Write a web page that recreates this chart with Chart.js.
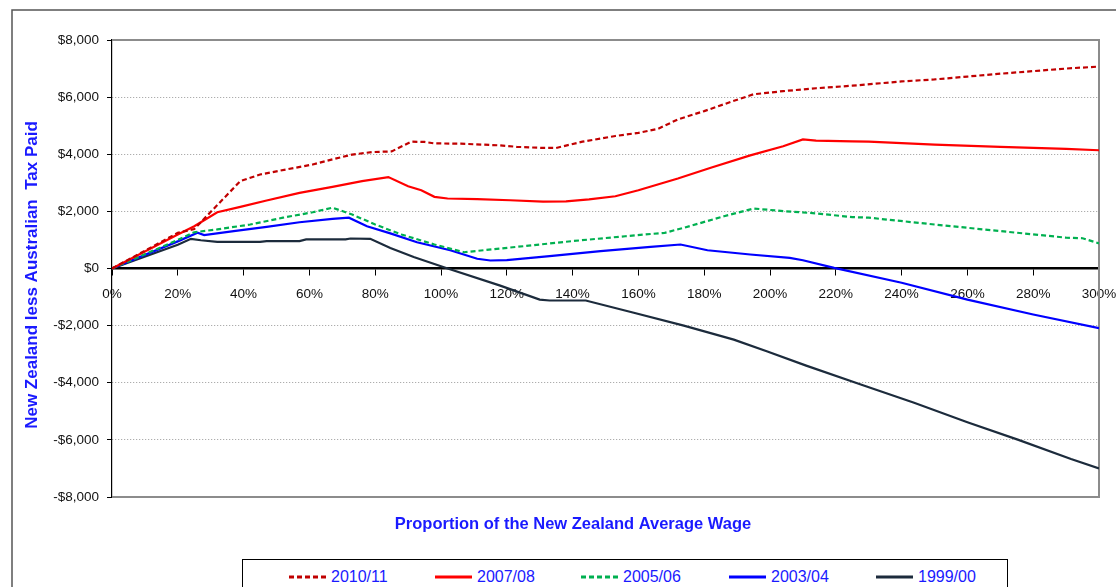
<!DOCTYPE html>
<html>
<head>
<meta charset="utf-8">
<script src="https://cdn.jsdelivr.net/npm/chart.js@4/dist/chart.umd.min.js"></script>
<style>
  html, body { margin: 0; padding: 0; background: #fff; }
  #wrap { position: relative; width: 1116px; height: 587px; overflow: hidden; }
  #c { position: absolute; left: 0; top: 0; }
  #legend { position: absolute; left: 242px; top: 559px; width: 766px; height: 50px;
            border: 1px solid #000; box-sizing: border-box; background: #fff; }
  .item { position: absolute; top: 6px; height: 22px; display: flex; align-items: center;
          font-family: "Liberation Sans", Arial, sans-serif; font-size: 16px; color: #1a1aff; }
  .item svg { margin-right: 5px; }
</style>
</head>
<body>
<div id="wrap">
  <canvas id="c" width="1116" height="587"></canvas>
  <div id="legend"></div>
</div>
<script>
// ---- Data (x = % of NZ average wage, y = NZ less Australian tax paid, $) ----
const seriesNames = ["2010/11", "2007/08", "2005/06", "2003/04", "1999/00"];

const x2010 = [0, 10, 20, 25, 39, 45, 53, 61, 67, 73, 79, 85, 91, 95, 98, 106, 118, 123, 131, 135, 143, 153, 160, 166, 172, 180, 188, 195, 204, 214, 225, 240, 250, 260, 270, 280, 290, 300];
const y2010 = [0, 620, 1250, 1380, 3060, 3290, 3470, 3640, 3820, 3990, 4075, 4100, 4440, 4430, 4380, 4370, 4310, 4260, 4220, 4220, 4440, 4640, 4750, 4890, 5220, 5510, 5830, 6100, 6210, 6310, 6400, 6550, 6620, 6720, 6820, 6910, 7000, 7070];

const x2007 = [0, 20, 25, 32, 39, 47, 57, 67, 76, 84, 90, 94, 98, 102, 111, 121, 131, 138, 145, 153, 160, 172, 182, 194, 204, 210, 214, 225, 230, 250, 270, 290, 300];
const y2007 = [0, 1190, 1480, 1970, 2160, 2380, 2650, 2860, 3060, 3200, 2880, 2740, 2510, 2450, 2430, 2390, 2340, 2350, 2420, 2530, 2740, 3150, 3530, 3960, 4280, 4520, 4480, 4450, 4440, 4340, 4260, 4190, 4140];

const x2005 = [0, 20, 25, 32, 42, 52, 61, 67, 73, 80, 88, 98, 107, 118, 125, 140, 156, 168, 174, 186, 195, 204, 214, 225, 230, 250, 270, 290, 295, 300];
const y2005 = [0, 1000, 1270, 1370, 1540, 1780, 1970, 2130, 1890, 1540, 1190, 840, 570, 700, 780, 960, 1130, 1250, 1430, 1830, 2100, 2010, 1930, 1800, 1780, 1540, 1310, 1080, 1060, 880];

const x2003 = [0, 20, 26, 28, 37, 47, 57, 67, 72, 77.5, 84.6, 92.7, 102.8, 111, 115, 120, 133, 148.5, 163.7, 172.8, 181, 194, 206, 210, 219.5, 240, 260, 280, 300];
const y2003 = [0, 950, 1250, 1170, 1310, 1460, 1620, 1740, 1780, 1480, 1230, 920, 640, 340, 280, 290, 430, 610, 760, 840, 640, 490, 370, 290, 20, -500, -1090, -1610, -2090];

const x1999 = [0, 20, 24, 27, 32, 45, 47, 57, 59, 71, 72.5, 78.5, 84.6, 91.7, 101.8, 118, 130, 133, 144, 158.6, 173.8, 189, 199, 211, 227.6, 243.8, 260, 275.3, 291.5, 300];
const y1999 = [0, 830, 1040, 990, 930, 930, 960, 960, 1020, 1020, 1050, 1040, 720, 400, 10, -600, -1090, -1120, -1120, -1550, -2000, -2490, -2900, -3400, -4060, -4700, -5380, -5990, -6670, -7000];

const xTickStep = 20;
const yTickStep = 2000;
const xTitle = "Proportion of the New Zealand Average Wage";
const yTitle = "New Zealand less Australian  Tax Paid";

// ---- Styles ----
const styles = [
  { color: "#C00000", dash: [5, 3] },
  { color: "#FF0000", dash: [] },
  { color: "#00B050", dash: [5, 3] },
  { color: "#0000FF", dash: [] },
  { color: "#1C2B3C", dash: [] }
];
const xs = [x2010, x2007, x2005, x2003, x1999];
const ys = [y2010, y2007, y2005, y2003, y1999];

const datasets = seriesNames.map((name, i) => ({
  label: name,
  data: xs[i].map((x, j) => ({ x: x, y: ys[i][j] })),
  borderColor: styles[i].color,
  borderDash: styles[i].dash,
  borderWidth: 2.2,
  pointRadius: 0,
  tension: 0,
  fill: false,
  order: i
}));

const FONT = "'Liberation Sans', Arial, sans-serif";

const framePlugin = {
  id: "frame",
  beforeDraw(chart) {
    const ctx = chart.ctx;
    ctx.save();
    ctx.fillStyle = "#fff";
    ctx.fillRect(0, 0, chart.width, chart.height);
    ctx.strokeStyle = "#555";
    ctx.lineWidth = 1.5;
    ctx.strokeRect(12, 10, 1300, 700);
    ctx.restore();
  },
  beforeDatasetsDraw(chart) {
    const { ctx, chartArea: a } = chart;
    ctx.save();
    ctx.strokeStyle = "#8c8c8c";
    ctx.lineWidth = 2;
    ctx.beginPath();
    ctx.moveTo(a.left, a.top);
    ctx.lineTo(a.right, a.top);
    ctx.lineTo(a.right, a.bottom);
    ctx.lineTo(a.left, a.bottom);
    ctx.stroke();
    ctx.restore();
  },
  afterDraw(chart) {
    const ctx = chart.ctx;
    ctx.save();
    ctx.fillStyle = "#1a1aff";
    ctx.font = "bold 16.5px " + FONT;
    ctx.textAlign = "center";
    ctx.textBaseline = "middle";
    ctx.fillText(xTitle, 573, 524);
    ctx.translate(32, 275);
    ctx.rotate(-Math.PI / 2);
    ctx.font = "bold 17px " + FONT;
    ctx.fillText(yTitle, 0, 0);
    ctx.restore();
  }
};

new Chart(document.getElementById("c"), {
  type: "line",
  data: { datasets },
  options: {
    responsive: false,
    animation: false,
    layout: { padding: { left: 0, top: 40, right: 17, bottom: 90 } },
    plugins: { legend: { display: false }, tooltip: { enabled: false } },
    scales: {
      x: {
        type: "linear",
        position: { y: 0 },
        min: 0, max: 300,
        afterFit(scale) { scale.paddingLeft = 0; scale.paddingRight = 0; },
        ticks: {
          stepSize: xTickStep,
          color: "#111",
          font: { family: FONT, size: 13.5 },
          padding: 12,
          maxRotation: 0,
          callback: v => v + "%"
        },
        grid: { drawOnChartArea: false, drawTicks: true, tickLength: 6, tickColor: "#000", color: "#000" },
        border: { color: "#000", width: 2.5 }
      },
      y: {
        type: "linear",
        min: -8000, max: 8000,
        afterFit(scale) { scale.width = 112; scale.paddingTop = 0; scale.paddingBottom = 0; },
        ticks: {
          stepSize: yTickStep,
          color: "#111",
          font: { family: FONT, size: 13.5 },
          padding: 8,
          callback: v => (v < 0 ? "-$" : "$") + Math.abs(v).toLocaleString("en-US")
        },
        grid: { color: "#9a9a9a", lineWidth: 1, tickLength: 5, tickColor: "#000", tickBorderDash: [] },
        border: { color: "#000", width: 1.2, dash: [1, 2] }
      }
    }
  },
  plugins: [framePlugin]
});

// ---- HTML legend ----
const legendPos = [288, 434, 580, 728, 875];
const legend = document.getElementById("legend");
seriesNames.forEach((name, i) => {
  const d = document.createElement("div");
  d.className = "item";
  d.style.left = (legendPos[i] - 242) + "px";
  const dash = styles[i].dash.length ? styles[i].dash.join(",") : "none";
  d.innerHTML = '<svg width="37" height="4"><line x1="0" y1="2" x2="37" y2="2" stroke="' +
    styles[i].color + '" stroke-width="3" stroke-dasharray="' + dash + '"/></svg>';
  const t = document.createElement("span");
  t.textContent = name;
  d.appendChild(t);
  legend.appendChild(d);
});
</script>
</body>
</html>
